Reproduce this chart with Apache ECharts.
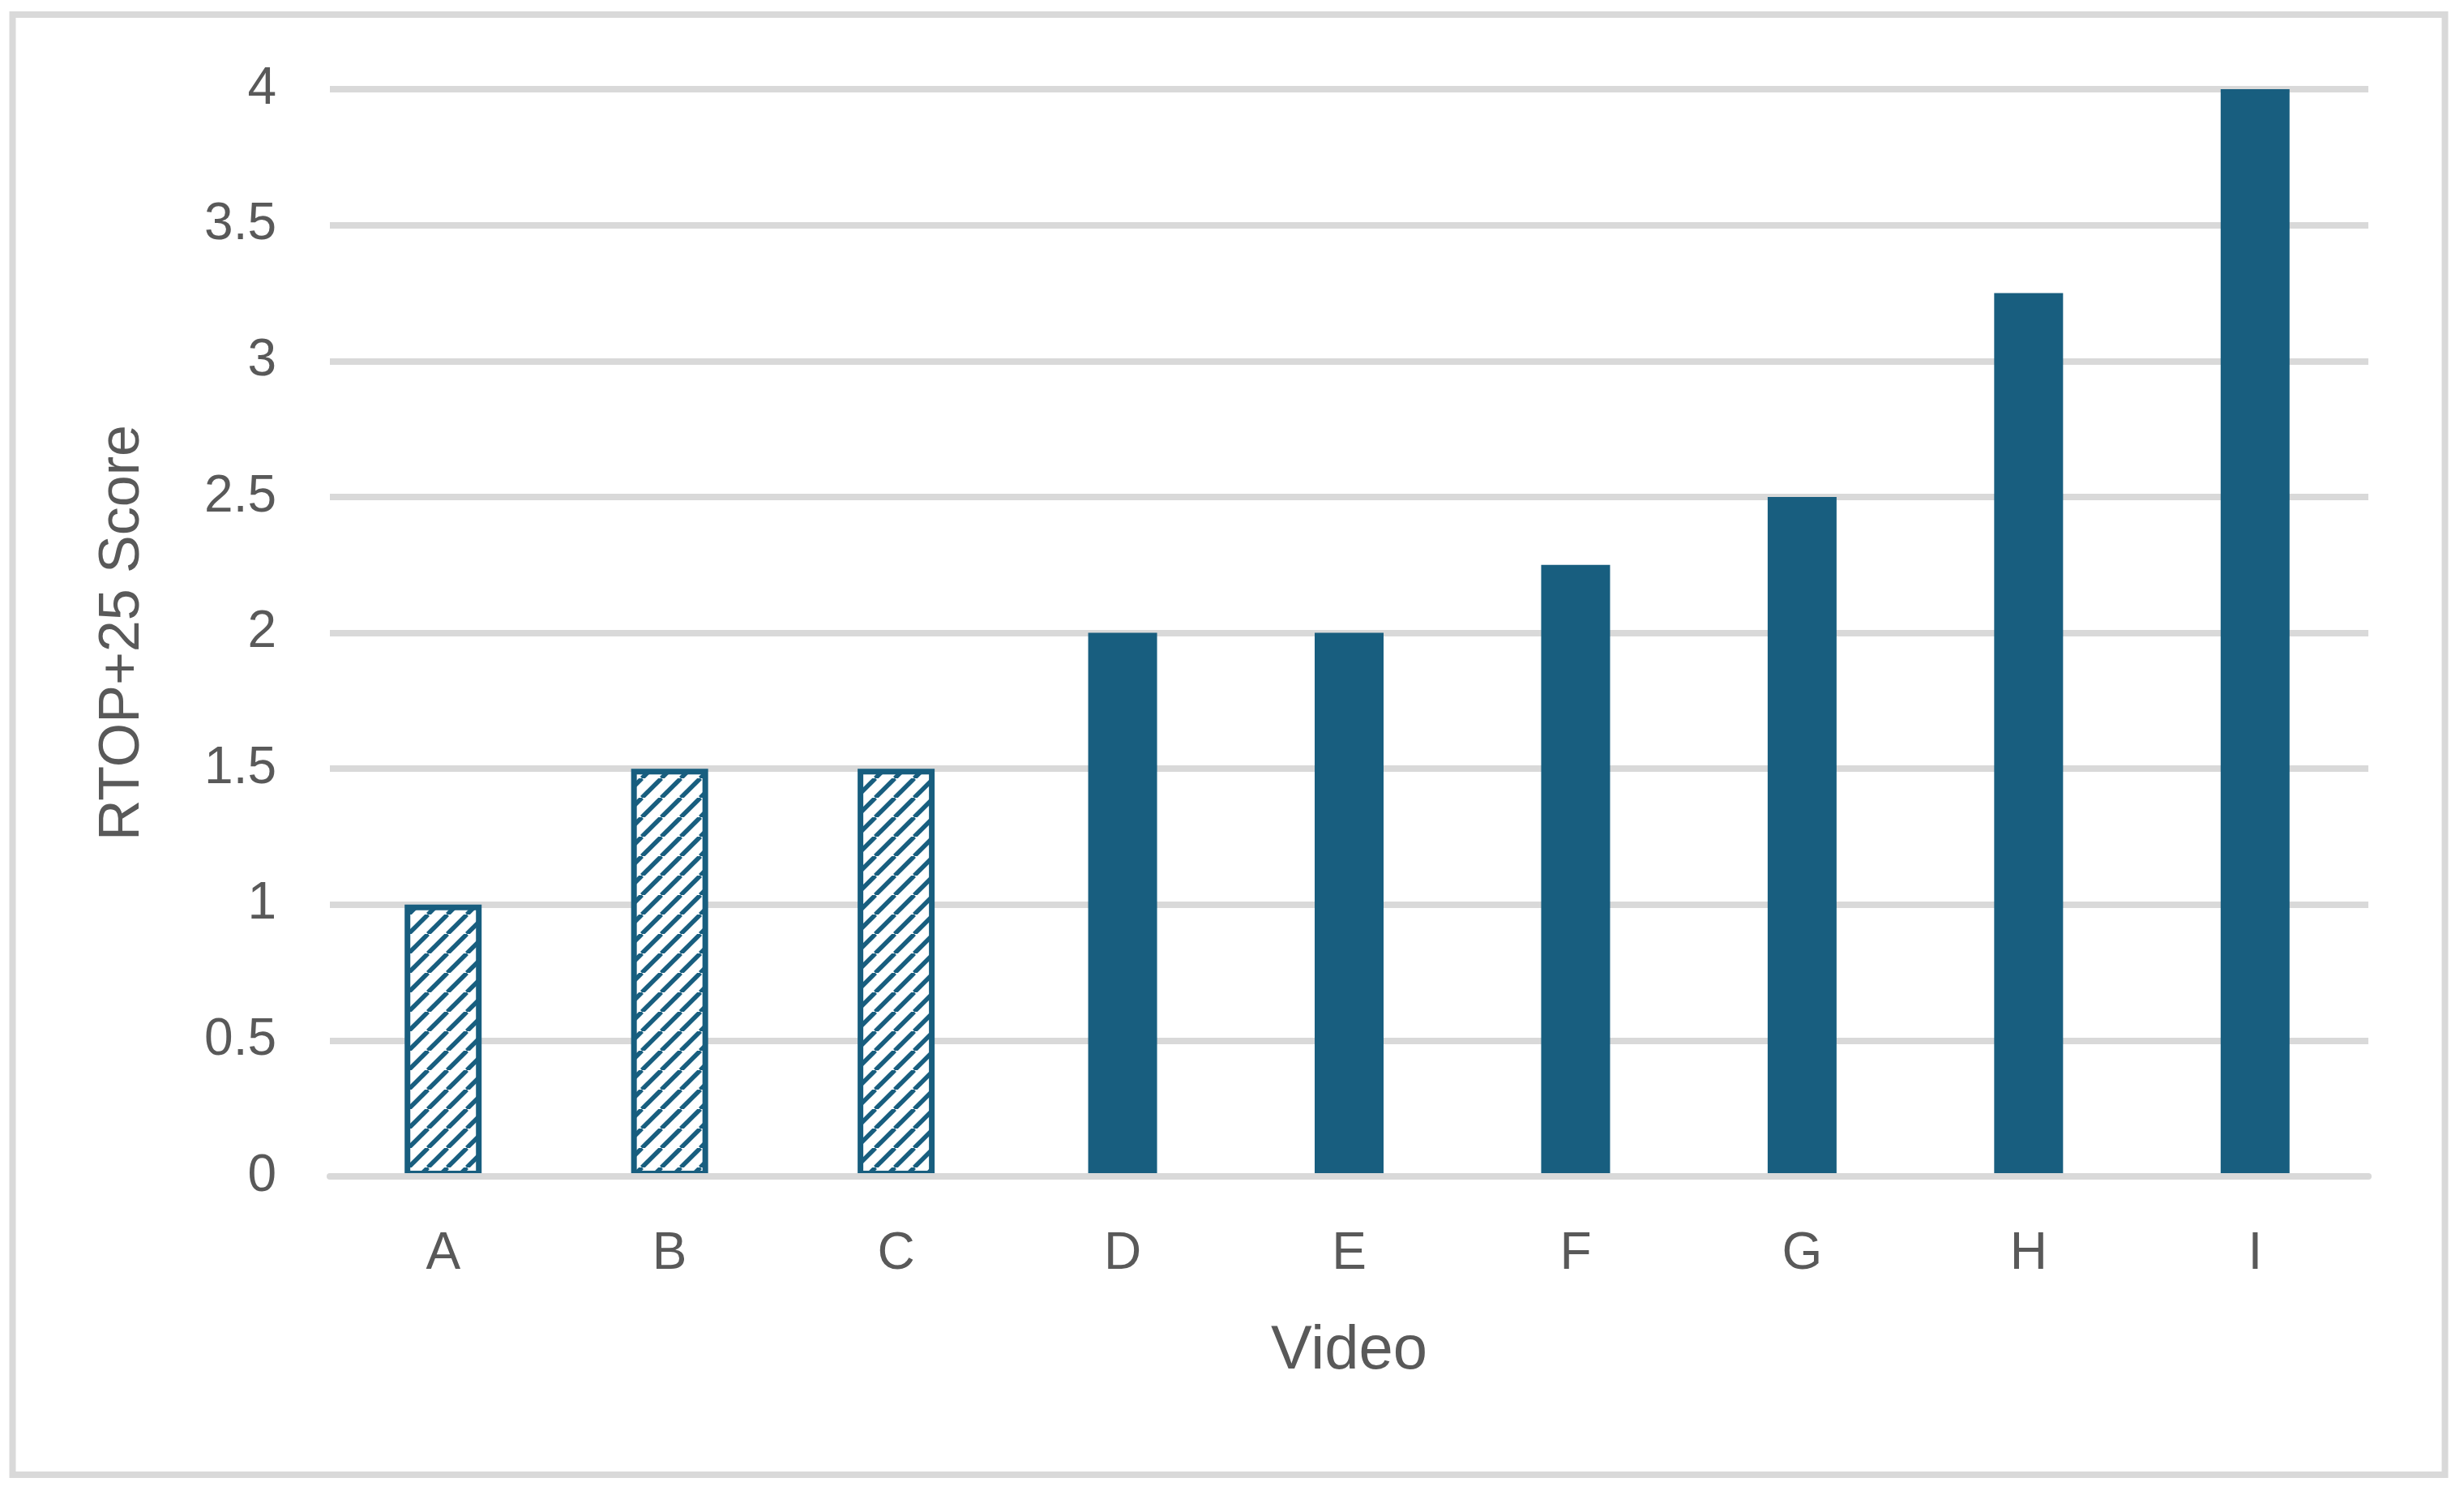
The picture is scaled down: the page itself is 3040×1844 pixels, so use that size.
<!DOCTYPE html>
<html>
<head>
<meta charset="utf-8">
<script src="https://cdn.jsdelivr.net/npm/echarts@6/dist/echarts.min.js"></script>
<style>
  html, body { margin: 0; padding: 0; background: #ffffff; }
  #chart { width: 3040px; height: 1844px; }
</style>
</head>
<body>
<div id="chart"></div>
<script>
// ---- data ----
const categories = ['A', 'B', 'C', 'D', 'E', 'F', 'G', 'H', 'I'];
const scores = [1, 1.5, 1.5, 2, 2, 2.25, 2.5, 3.25, 4];
const patternedVideos = ['A', 'B', 'C'];
const yTicks = [0, 0.5, 1, 1.5, 2, 2.5, 3, 3.5, 4];
const xTitle = 'Video';
const yTitle = 'RTOP+25 Score';

// ---- style ----
const barColor = '#185e7f';
const gridColor = '#d9d9d9';
const textColor = '#595959';
const fontFamily = '"Liberation Sans", Arial, sans-serif';

function makeHatch() {
  const size = 24;
  const c = document.createElement('canvas');
  c.width = size; c.height = size;
  const ctx = c.getContext('2d');
  ctx.fillStyle = '#ffffff';
  ctx.fillRect(0, 0, size, size);
  ctx.strokeStyle = barColor;
  ctx.lineWidth = 5.5;
  for (const off of [-size, 0, size]) {
    ctx.beginPath();
    ctx.moveTo(off, size);
    ctx.lineTo(off + size, 0);
    ctx.stroke();
  }
  return c;
}
const hatch = makeHatch();

const isPatterned = categories.map(c => patternedVideos.indexOf(c) >= 0);
const hatchedData = scores.map((v, i) => isPatterned[i] ? v : '-');
const solidData = scores.map((v, i) => isPatterned[i] ? '-' : v);

const chart = echarts.init(document.getElementById('chart'), null, { renderer: 'canvas' });
chart.setOption({
  animation: false,
  backgroundColor: '#ffffff',
  graphic: [{
    type: 'rect',
    shape: { x: 15.5, y: 18, width: 3001, height: 1801 },
    style: { fill: null, stroke: gridColor, lineWidth: 8 },
    z: -1
  }],
  grid: { left: 407, right: 118, top: 110, bottom: 393, containLabel: false },
  xAxis: [{
    type: 'category',
    data: categories,
    z: 3,
    name: xTitle,
    nameLocation: 'middle',
    nameGap: 178,
    nameTextStyle: { fontSize: 76, color: textColor, fontFamily: fontFamily },
    axisLine: { show: true, lineStyle: { color: gridColor, width: 8 } },
    axisTick: { show: false },
    axisLabel: { fontSize: 64, color: textColor, fontFamily: fontFamily, margin: 64 }
  }, {
    type: 'category',
    data: categories,
    position: 'bottom',
    show: false
  }],
  yAxis: {
    type: 'value',
    min: 0,
    max: 4,
    interval: 0.5,
    name: yTitle,
    nameLocation: 'middle',
    nameGap: 220,
    nameRotate: 90,
    nameTextStyle: { fontSize: 70, color: textColor, fontFamily: fontFamily },
    axisLine: { show: false },
    axisTick: { show: false },
    splitLine: { show: true, lineStyle: { color: gridColor, width: 8 } },
    axisLabel: {
      fontSize: 64, color: textColor, fontFamily: fontFamily, margin: 66,
      formatter: function (v) { return yTicks.indexOf(v) >= 0 ? String(v) : ''; }
    }
  },
  series: [{
    type: 'bar',
    xAxisIndex: 0,
    data: solidData,
    barWidth: 85,
    itemStyle: { color: barColor }
  }, {
    type: 'bar',
    xAxisIndex: 1,
    data: hatchedData,
    barWidth: 95,
    itemStyle: {
      color: { image: hatch, repeat: 'repeat' },
      borderColor: barColor,
      borderWidth: 7
    }
  }]
});
</script>
</body>
</html>
